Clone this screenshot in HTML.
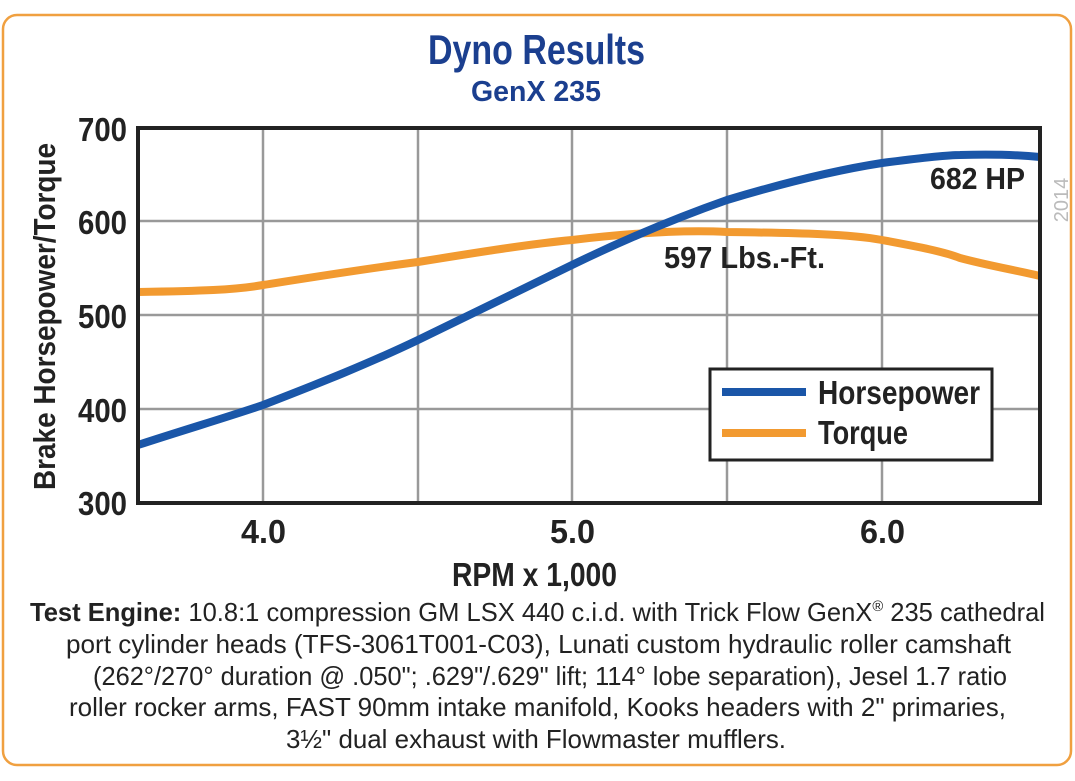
<!DOCTYPE html>
<html><head><meta charset="utf-8"><style>
html,body{margin:0;padding:0;background:#fff;}
svg{display:block;}
text{font-family:"Liberation Sans Narrow","Liberation Sans",sans-serif;}
</style></head><body>
<svg width="1075" height="781" viewBox="0 0 1075 781" xmlns="http://www.w3.org/2000/svg">
<rect x="0" y="0" width="1075" height="781" fill="#fff"/>
<rect x="3" y="15" width="1068" height="750" rx="14" fill="#fff" stroke="#f0a040" stroke-width="2.5"/>
<text x="428" y="64" textLength="217" lengthAdjust="spacingAndGlyphs" font-size="42" font-weight="bold" fill="#1b3f8f">Dyno Results</text>
<text x="471" y="101" textLength="130" lengthAdjust="spacingAndGlyphs" font-size="29" font-weight="bold" fill="#1b3f8f">GenX 235</text>
<g stroke="#999" stroke-width="2.5">
<line x1="263" y1="128" x2="263" y2="503"/><line x1="418" y1="128" x2="418" y2="503"/>
<line x1="572" y1="128" x2="572" y2="503"/><line x1="727" y1="128" x2="727" y2="503"/>
<line x1="882" y1="128" x2="882" y2="503"/>
<line x1="138" y1="221" x2="1040" y2="221"/><line x1="138" y1="315" x2="1040" y2="315"/>
<line x1="138" y1="409" x2="1040" y2="409"/>
</g>
<path d="M138,292 C200,291 235,290 263,285 C320,276 370,268 418,262 C480,252 530,244 572,240 C640,232 690,230 727,232 C800,233 850,234 882,240 C920,247 945,252 960,258 C990,266 1015,270 1040,276" fill="none" stroke="#f29a30" stroke-width="8"/>
<path d="M138,445 C190,428 225,418 263,405 C320,383 370,363 418,340 C480,310 530,285 572,265 C640,232 690,213 727,200 C800,178 850,168 882,163 C920,158 945,155 960,155 C995,154 1020,155 1040,157" fill="none" stroke="#1a56a8" stroke-width="8"/>
<rect x="138" y="128" width="902" height="375" fill="none" stroke="#222" stroke-width="4"/>
<text x="930" y="189" textLength="95" lengthAdjust="spacingAndGlyphs" font-size="31" font-weight="bold" fill="#222">682 HP</text>
<text x="664" y="268" textLength="161" lengthAdjust="spacingAndGlyphs" font-size="31" font-weight="bold" fill="#222">597 Lbs.-Ft.</text>
<text transform="translate(1068,200) rotate(-90)" text-anchor="middle" font-size="20" fill="#bbb">2014</text>
<rect x="710" y="369" width="282" height="91" fill="#fff" stroke="#222" stroke-width="3"/>
<line x1="722" y1="392" x2="806" y2="392" stroke="#1a56a8" stroke-width="8"/>
<line x1="722" y1="433" x2="806" y2="433" stroke="#f29a30" stroke-width="8"/>
<text x="818" y="404" textLength="162" lengthAdjust="spacingAndGlyphs" font-size="33" font-weight="bold" fill="#222">Horsepower</text>
<text x="818" y="444" textLength="90" lengthAdjust="spacingAndGlyphs" font-size="33" font-weight="bold" fill="#222">Torque</text>
<g font-size="33" font-weight="bold" fill="#222">
<text x="78" y="141" textLength="49" lengthAdjust="spacingAndGlyphs">700</text>
<text x="78" y="234" textLength="49" lengthAdjust="spacingAndGlyphs">600</text>
<text x="78" y="328" textLength="49" lengthAdjust="spacingAndGlyphs">500</text>
<text x="78" y="422" textLength="49" lengthAdjust="spacingAndGlyphs">400</text>
<text x="78" y="515" textLength="49" lengthAdjust="spacingAndGlyphs">300</text>
<text x="241" y="543" textLength="45" lengthAdjust="spacingAndGlyphs">4.0</text>
<text x="550" y="543" textLength="45" lengthAdjust="spacingAndGlyphs">5.0</text>
<text x="860" y="543" textLength="45" lengthAdjust="spacingAndGlyphs">6.0</text>
<text x="452" y="586" textLength="165" lengthAdjust="spacingAndGlyphs">RPM x 1,000</text>
</g>
<text transform="translate(55,490) rotate(-90)" textLength="347" lengthAdjust="spacingAndGlyphs" font-size="31" font-weight="bold" fill="#222">Brake Horsepower/Torque</text>
<g font-size="26" fill="#222">
<text x="30" y="621" textLength="1015" lengthAdjust="spacingAndGlyphs"><tspan font-weight="bold">Test Engine:</tspan> 10.8:1 compression GM LSX 440 c.i.d. with Trick Flow GenX<tspan font-size="15" dy="-10">®</tspan><tspan dy="10"> 235 cathedral</tspan></text>
<text x="66" y="653" textLength="945" lengthAdjust="spacingAndGlyphs">port  cylinder heads (TFS-3061T001-C03), Lunati custom hydraulic roller camshaft</text>
<text x="93" y="685" textLength="914" lengthAdjust="spacingAndGlyphs">(262°/270° duration @ .050"; .629"/.629" lift; 114° lobe separation), Jesel 1.7 ratio</text>
<text x="69" y="716" textLength="937" lengthAdjust="spacingAndGlyphs">roller rocker arms, FAST 90mm intake manifold, Kooks headers with 2" primaries,</text>
<text x="286" y="748" textLength="500" lengthAdjust="spacingAndGlyphs">3½" dual exhaust with Flowmaster mufflers.</text>
</g>
</svg>
</body></html>
